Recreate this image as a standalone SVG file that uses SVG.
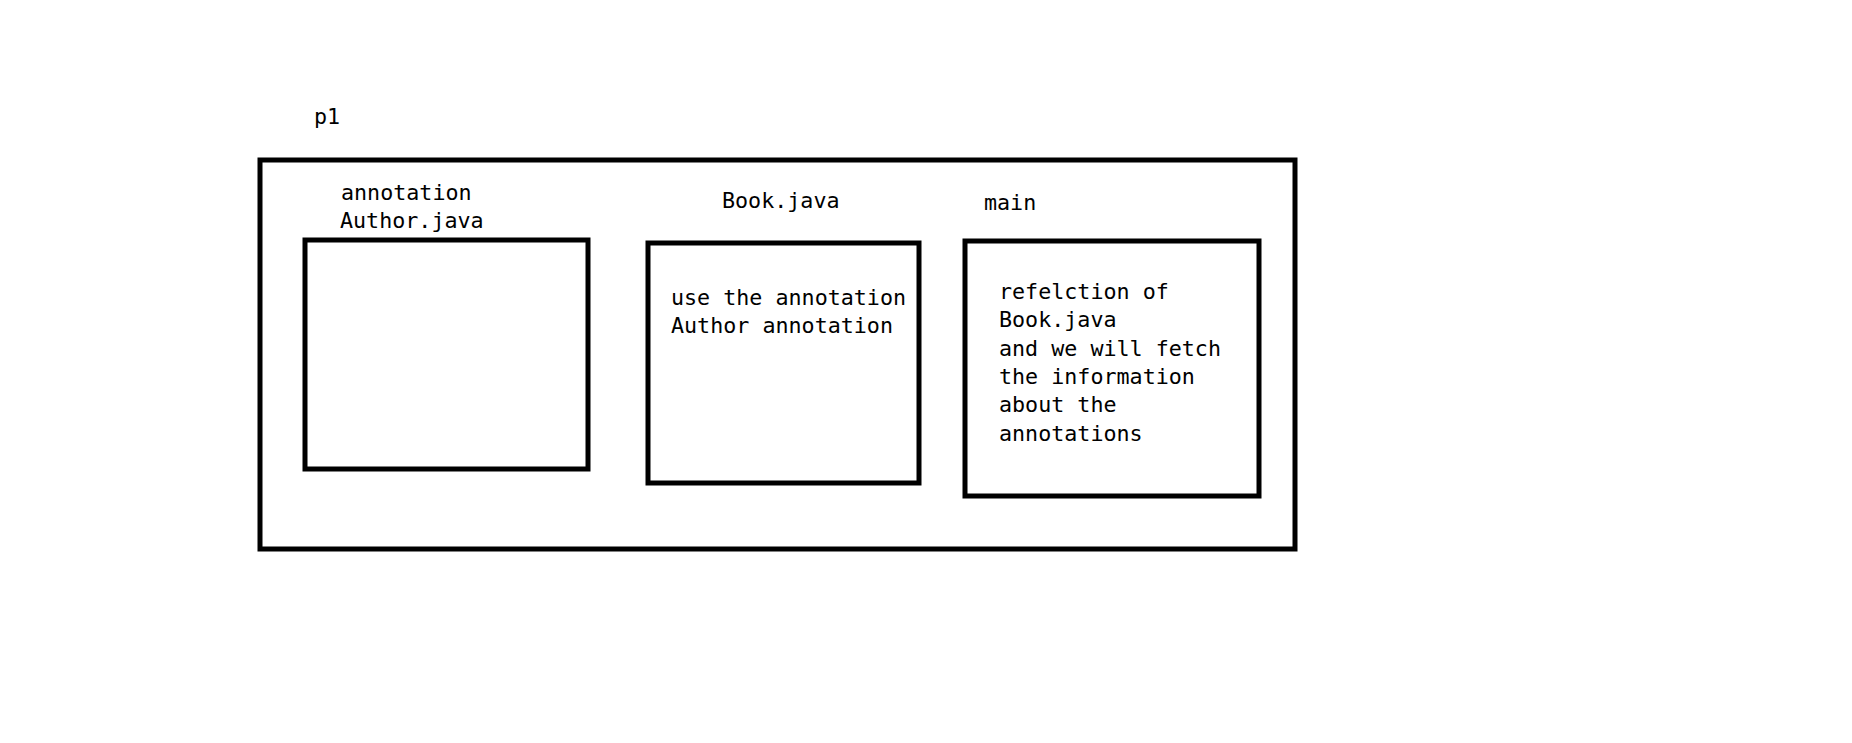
<svg xmlns="http://www.w3.org/2000/svg" width="1852" height="743" viewBox="0 0 1852 743">
<style>
.box{fill:none;stroke:#000;stroke-width:5}
.t{font-family:"DejaVu Sans Mono","Liberation Mono",monospace;font-size:21.7px;fill:#000}
</style>
<rect width="1852" height="743" fill="#fff"/>
<g id="p1">
<text class="t" x="314" y="124">p1</text>
<rect class="box" x="260" y="160" width="1035" height="389"/>
</g>
<g id="author">
<text class="t" x="341" y="200">annotation</text>
<text class="t" x="340" y="228">Author.java</text>
<rect class="box" x="305" y="240" width="283" height="229"/>
</g>
<g id="book">
<text class="t" x="722" y="208">Book.java</text>
<rect class="box" x="648" y="243" width="271" height="240"/>
<text class="t" x="671" y="305">use the annotation</text>
<text class="t" x="671" y="333">Author annotation</text>
</g>
<g id="main">
<text class="t" x="984" y="210">main</text>
<rect class="box" x="965" y="241" width="294" height="255"/>
<text class="t" x="999" y="299">refelction of</text>
<text class="t" x="999" y="327">Book.java</text>
<text class="t" x="999" y="355.5">and we will fetch</text>
<text class="t" x="999" y="384">the information</text>
<text class="t" x="999" y="412">about the</text>
<text class="t" x="999" y="440.5">annotations</text>
</g>
<g id="connectors"></g>
</svg>
